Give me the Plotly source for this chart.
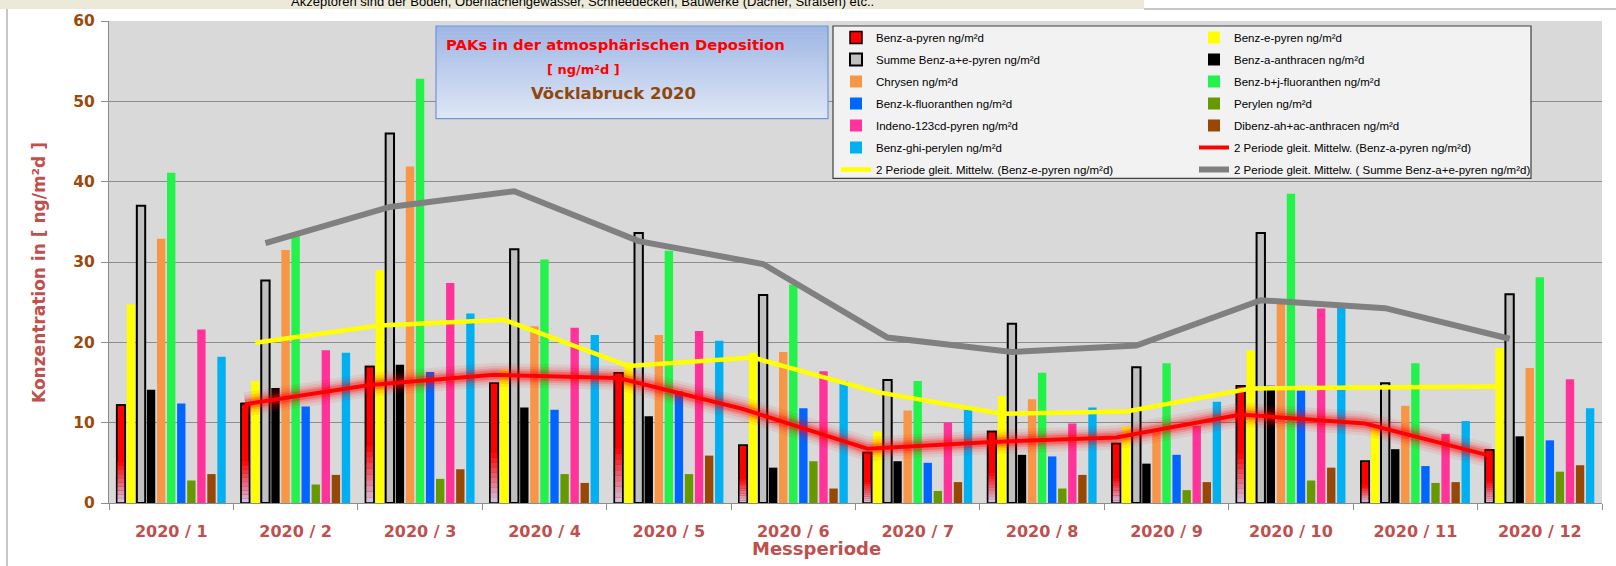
import plotly.graph_objects as go

# ---------------- data ----------------
categories = ["2020 / 1", "2020 / 2", "2020 / 3", "2020 / 4", "2020 / 5", "2020 / 6",
              "2020 / 7", "2020 / 8", "2020 / 9", "2020 / 10", "2020 / 11", "2020 / 12"]

benz_a_pyren = [12.2, 12.4, 17.0, 14.9, 16.2, 7.2, 6.3, 8.9, 7.4, 14.6, 5.2, 6.6]
benz_e_pyren = [24.7, 15.2, 29.0, 16.6, 17.5, 18.7, 8.9, 13.3, 9.5, 19.0, 9.7, 19.3]
summe_a_e_pyren = [37.0, 27.7, 46.0, 31.6, 33.6, 25.9, 15.3, 22.3, 16.9, 33.6, 14.9, 26.0]
benz_a_anthracen = [14.1, 14.3, 17.2, 11.9, 10.8, 4.4, 5.2, 6.0, 4.9, 14.6, 6.7, 8.3]
chrysen = [32.9, 31.5, 41.9, 22.0, 20.9, 18.8, 11.5, 12.9, 9.2, 24.8, 12.1, 16.8]
benz_bj_fluoranthen = [41.1, 33.2, 52.8, 30.3, 31.4, 27.2, 15.2, 16.2, 17.4, 38.5, 17.4, 28.1]
benz_k_fluoranthen = [12.4, 12.0, 16.3, 11.6, 13.9, 11.8, 5.0, 5.8, 6.0, 14.0, 4.6, 7.8]
perylen = [2.8, 2.3, 3.0, 3.6, 3.6, 5.2, 1.5, 1.8, 1.6, 2.8, 2.5, 3.9]
indeno_pyren = [21.6, 19.0, 27.4, 21.8, 21.4, 16.4, 10.0, 9.9, 9.6, 24.2, 8.6, 15.4]
dibenz_anthracen = [3.6, 3.5, 4.2, 2.5, 5.9, 1.8, 2.6, 3.5, 2.6, 4.4, 2.6, 4.7]
benz_ghi_perylen = [18.2, 18.7, 23.6, 20.9, 20.2, 15.2, 11.6, 11.9, 12.6, 24.3, 10.2, 11.8]

bar_names = ["Benz-a-pyren ng/m²d", "Benz-e-pyren ng/m²d", "Summe Benz-a+e-pyren ng/m²d",
             "Benz-a-anthracen ng/m²d", "Chrysen ng/m²d", "Benz-b+j-fluoranthen ng/m²d",
             "Benz-k-fluoranthen ng/m²d", "Perylen ng/m²d", "Indeno-123cd-pyren ng/m²d",
             "Dibenz-ah+ac-anthracen ng/m²d", "Benz-ghi-perylen ng/m²d"]
ma_names = ["2 Periode gleit. Mittelw. (Benz-a-pyren ng/m²d)",
            "2 Periode gleit. Mittelw. (Benz-e-pyren ng/m²d)",
            "2 Periode gleit. Mittelw. ( Summe Benz-a+e-pyren ng/m²d)"]

# ---------------- styles ----------------
bar_series = [benz_a_pyren, benz_e_pyren, summe_a_e_pyren, benz_a_anthracen, chrysen,
              benz_bj_fluoranthen, benz_k_fluoranthen, perylen, indeno_pyren,
              dibenz_anthracen, benz_ghi_perylen]
bar_colors = ["#ff0000", "#ffff00", "#c0c0c0", "#000000", "#f79646", "#22f24a",
              "#0066ff", "#669900", "#ff3399", "#974806", "#00b0f0"]
bar_lines = [(1.5, "#000000"), (0, "#000000"), (2, "#000000")] + [(0, "#000000")] * 8
ma_colors = ["#ff0000", "#ffff00", "#808080"]
ma_widths = [4, 4.5, 6]

W, H = 1616, 566
L, R, T, B = 109, 1602, 19, 503
BARGAP, BARGROUPGAP = 0.11, 0.17
NB = len(bar_series)


def px2x(p):
    return (p - L) / (R - L)


def py2y(p):
    return (B - p) / (B - T)


xi = list(range(len(categories)))
fig = go.Figure()


def legend_for(idx):
    return "legend" if idx % 2 == 0 else "legend2"


# bars
for j, (vals, name, col, (lw, lc)) in enumerate(zip(bar_series, bar_names, bar_colors, bar_lines)):
    fig.add_trace(go.Bar(
        x=xi, y=vals, name=name, offsetgroup=f"s{j}", legendgroup=f"g{j}",
        legend=legend_for(j),
        marker=dict(color=col, line=dict(width=lw, color=lc)),
    ))
    if j == 0:
        # gradient at the bottom of the Benz-a-pyren bars
        nseg, frac = 10, 0.42
        c0, c1 = (205, 200, 232), (255, 0, 0)
        for k in range(nseg):
            t = (k + 0.5) / nseg
            c = tuple(int(round(a + (b - a) * t)) for a, b in zip(c0, c1))
            fig.add_trace(go.Bar(
                x=xi, y=[v * frac / nseg for v in vals],
                base=[v * frac * k / nseg for v in vals],
                offsetgroup="s0", legendgroup="g0", showlegend=False, hoverinfo="skip",
                marker=dict(color=f"rgb{c}", line=dict(width=0)),
            ))
        fig.add_trace(go.Bar(
            x=xi, y=vals, offsetgroup="s0", legendgroup="g0", showlegend=False,
            hoverinfo="skip",
            marker=dict(color="rgba(0,0,0,0)", line=dict(width=lw, color=lc)),
        ))

# moving averages, placed at the position of their own series' bars
slot = (1 - BARGAP) / NB
for m, (src, name, col, lw) in enumerate(zip(bar_series[:3], ma_names, ma_colors, ma_widths)):
    ma = [None] + [(src[k - 1] + src[k]) / 2 for k in range(1, len(src))]
    off = -(1 - BARGAP) / 2 + slot * (m + 0.5)
    xs = [i + off for i in xi]
    if m == 0:
        for gw, ga in [(24, 0.07), (18, 0.11), (13, 0.17), (9, 0.27)]:
            fig.add_trace(go.Scatter(
                x=xs, y=ma, mode="lines", showlegend=False, hoverinfo="skip",
                legendgroup=f"g{NB + m}",
                line=dict(color=f"rgba(255,0,0,{ga})", width=gw),
            ))
    fig.add_trace(go.Scatter(
        x=xs, y=ma, mode="lines", name=name, legendgroup=f"g{NB + m}",
        legend=legend_for(NB + m), line=dict(color=col, width=lw),
    ))

# ---------------- decoration ----------------
shapes = []
# top beige strip and frame lines
shapes.append(dict(type="rect", xref="paper", yref="paper", x0=px2x(0), x1=px2x(1144),
                   y0=py2y(7), y1=py2y(-2), fillcolor="#ece9d8", line=dict(width=0), layer="above"))
shapes.append(dict(type="line", xref="paper", yref="paper", x0=px2x(1144), x1=px2x(1620),
                   y0=py2y(7), y1=py2y(7), line=dict(color="#b4b4b4", width=1.5)))
shapes.append(dict(type="line", xref="paper", yref="paper", x0=px2x(7), x1=px2x(7),
                   y0=py2y(7), y1=py2y(570), line=dict(color="#b4b4b4", width=1.5)))

# title box with vertical gradient
tx0, tx1, ty0, ty1 = 436, 828, 24, 117
nb = 30
top_c, bot_c = (158, 182, 228), (223, 231, 246)
for k in range(nb):
    t = (k + 0.5) / nb
    c = tuple(int(round(a + (b - a) * t)) for a, b in zip(top_c, bot_c))
    ya = ty0 + (ty1 - ty0) * k / nb
    yb = ty0 + (ty1 - ty0) * (k + 1) / nb
    shapes.append(dict(type="rect", xref="paper", yref="paper", x0=px2x(tx0), x1=px2x(tx1),
                       y0=py2y(yb + 0.6), y1=py2y(ya), fillcolor=f"rgb{c}",
                       line=dict(width=0), layer="above"))
shapes.append(dict(type="rect", xref="paper", yref="paper", x0=px2x(tx0), x1=px2x(tx1),
                   y0=py2y(ty1), y1=py2y(ty0), fillcolor="rgba(0,0,0,0)",
                   line=dict(color="#6f95d4", width=1.2), layer="above"))

# legend box
shapes.append(dict(type="rect", xref="paper", yref="paper", x0=px2x(833), x1=px2x(1531),
                   y0=py2y(177), y1=py2y(24), fillcolor="#f2f2f2",
                   line=dict(color="#404040", width=1.2), layer="above"))

BOLD_FONT = "DejaVu Sans"
annotations = [
    dict(text="Akzeptoren sind der Boden, Oberflächengewässer, Schneedecken, Bauwerke (Dächer, Straßen) etc..",
         xref="paper", yref="paper", x=px2x(582), y=py2y(-1), xanchor="center", yanchor="middle",
         showarrow=False, font=dict(family="Liberation Sans, Arial", size=13, color="#000000")),
    dict(text="<b>PAKs in der atmosphärischen Deposition</b>", xref="paper", yref="paper",
         x=px2x(615), y=py2y(43), xanchor="center", yanchor="middle", showarrow=False,
         font=dict(family=BOLD_FONT, size=14.8, color="#ff0000")),
    dict(text="<b>[ ng/m²d ]</b>", xref="paper", yref="paper",
         x=px2x(583), y=py2y(68), xanchor="center", yanchor="middle", showarrow=False,
         font=dict(family=BOLD_FONT, size=13, color="#ff0000")),
    dict(text="<b>Vöcklabruck 2020</b>", xref="paper", yref="paper",
         x=px2x(613), y=py2y(92), xanchor="center", yanchor="middle", showarrow=False,
         font=dict(family=BOLD_FONT, size=16.5, color="#8e470c")),
    dict(text="<b>Messperiode</b>", xref="paper", yref="paper",
         x=px2x(816), y=py2y(549), xanchor="center", yanchor="middle", showarrow=False,
         font=dict(family=BOLD_FONT, size=18, color="#c0504d")),
    dict(text="<b>Konzentration in [ ng/m²d ]</b>", xref="paper", yref="paper",
         x=px2x(39), y=py2y(272), xanchor="center", yanchor="middle", showarrow=False,
         textangle=-90, font=dict(family=BOLD_FONT, size=17, color="#c0504d")),
]

legend_common = dict(
    orientation="v", bgcolor="rgba(0,0,0,0)", borderwidth=0,
    font=dict(family="Liberation Sans, Arial", size=11.5, color="#000000"),
    traceorder="grouped", tracegroupgap=3, itemwidth=30,
    xanchor="left", yanchor="top", itemclick=False, itemdoubleclick=False,
)

fig.update_layout(
    width=W, height=H,
    margin=dict(l=L, r=W - R, t=T, b=H - B, pad=0),
    paper_bgcolor="#ffffff", plot_bgcolor="#d9d9d9",
    barmode="group", bargap=BARGAP, bargroupgap=BARGROUPGAP,
    showlegend=True,
    legend=dict(x=px2x(836), y=py2y(21), **legend_common),
    legend2=dict(x=px2x(1194), y=py2y(21), **legend_common),
    xaxis=dict(
        range=[-0.5, len(categories) - 0.5], tickmode="array", tickvals=xi, ticktext=categories,
        ticks="", showgrid=False, zeroline=False, showline=True, linecolor="#8c8c8c", linewidth=1,
        tickfont=dict(family=BOLD_FONT, size=16, color="#c0504d", weight="bold"),
        ticklabelstandoff=14,
        minor=dict(tickmode="array", tickvals=[i - 0.5 for i in range(len(categories) + 1)],
                   ticks="outside", ticklen=6, tickcolor="#8c8c8c", tickwidth=1, showgrid=False),
    ),
    yaxis=dict(
        range=[0, 60], dtick=10, tick0=0, showgrid=True, gridcolor="#8c8c8c", gridwidth=1,
        zeroline=False, showline=True, linecolor="#8c8c8c", linewidth=1,
        ticks="outside", ticklen=7, tickcolor="#8c8c8c",
        tickfont=dict(family=BOLD_FONT, size=15.5, color="#9a4a0a", weight="bold"),
        ticklabelstandoff=3,
    ),
    shapes=shapes, annotations=annotations,
)

fig.write_html("out.html", config={"displayModeBar": False},
               post_script="document.body.style.margin='0px';")
